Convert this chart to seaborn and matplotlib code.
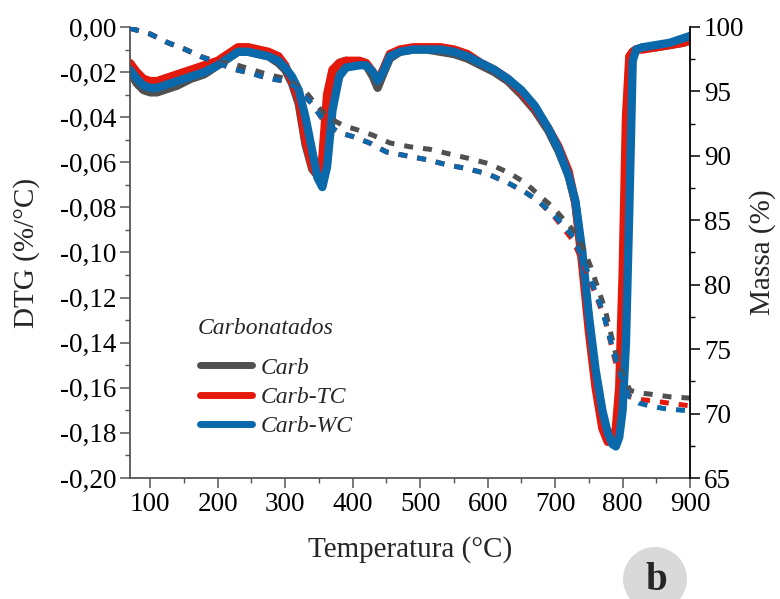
import numpy as np
import pandas as pd
import matplotlib
matplotlib.use("Agg")
import matplotlib.pyplot as plt
import seaborn as sns
from matplotlib.ticker import MultipleLocator, FuncFormatter
from matplotlib.lines import Line2D
from matplotlib.patches import Ellipse

# ---------------- data ----------------
series = ["Carb", "Carb-TC", "Carb-WC"]
colors = {"Carb": "#505050", "Carb-TC": "#e5190b", "Carb-WC": "#0a69ab"}
legend_title = "Carbonatados"

T_dtg = [70, 80, 90, 100, 110, 120, 140, 160, 180, 200, 215, 230, 245, 260, 275,
         290, 300, 310, 320, 330, 340, 348, 355, 362, 370, 380, 390, 400, 410,
         420, 430, 437, 445, 455, 470, 490, 510, 530, 550, 570, 590, 610, 630,
         650, 670, 690, 705, 720, 730, 740, 750, 760, 770, 778, 785, 790, 795,
         800, 805, 810, 815, 820, 830, 850, 870, 890, 900]

dtg_carb = [-0.020, -0.025, -0.028, -0.029, -0.029, -0.028, -0.026, -0.023, -0.021,
            -0.017, -0.014, -0.011, -0.011, -0.012, -0.013, -0.016, -0.019, -0.025,
            -0.034, -0.052, -0.063, -0.066, -0.062, -0.035, -0.020, -0.016, -0.015,
            -0.016, -0.016, -0.017, -0.022, -0.027, -0.021, -0.014, -0.011, -0.010,
            -0.010, -0.011, -0.012, -0.014, -0.017, -0.020, -0.024, -0.030, -0.037,
            -0.046, -0.055, -0.066, -0.078, -0.102, -0.130, -0.156, -0.174, -0.182,
            -0.184, -0.183, -0.178, -0.150, -0.070, -0.015, -0.011, -0.010, -0.009,
            -0.009, -0.008, -0.007, -0.006]

dtg_tc = [-0.016, -0.020, -0.023, -0.024, -0.024, -0.023, -0.021, -0.019, -0.017,
          -0.015, -0.012, -0.009, -0.009, -0.010, -0.011, -0.013, -0.017, -0.024,
          -0.032, -0.050, -0.062, -0.066, -0.058, -0.030, -0.019, -0.016, -0.015,
          -0.015, -0.015, -0.016, -0.020, -0.024, -0.019, -0.012, -0.010, -0.009,
          -0.009, -0.009, -0.010, -0.012, -0.016, -0.019, -0.023, -0.029, -0.036,
          -0.045, -0.053, -0.064, -0.078, -0.105, -0.135, -0.160, -0.178, -0.184,
          -0.182, -0.178, -0.160, -0.110, -0.040, -0.013, -0.011, -0.010, -0.010,
          -0.009, -0.008, -0.007, -0.006]

dtg_wc = [-0.019, -0.023, -0.026, -0.027, -0.027, -0.026, -0.024, -0.022, -0.020,
          -0.017, -0.014, -0.011, -0.011, -0.012, -0.013, -0.015, -0.018, -0.022,
          -0.028, -0.040, -0.055, -0.067, -0.071, -0.062, -0.037, -0.022, -0.018,
          -0.0175, -0.017, -0.017, -0.020, -0.024, -0.020, -0.013, -0.011, -0.010,
          -0.010, -0.010, -0.011, -0.013, -0.016, -0.019, -0.023, -0.028, -0.035,
          -0.045, -0.054, -0.066, -0.077, -0.099, -0.128, -0.152, -0.170, -0.180,
          -0.185, -0.186, -0.182, -0.170, -0.140, -0.080, -0.015, -0.010, -0.009,
          -0.008, -0.007, -0.005, -0.004]

T_mass_carb = [70, 100, 125, 150, 175, 200, 225, 250, 275, 300, 330, 345, 363, 388,
               402, 430, 455, 485, 515, 547, 572, 601, 631, 656, 675, 697, 727, 742,
               752, 774, 789, 798, 811, 825, 842, 870, 900]
mass_carb = [99.9, 99.45, 98.8, 98.3, 97.7, 97.3, 97.1, 96.7, 96.3, 96.0, 95.0, 94.0,
             93.0, 92.3, 92.1, 91.6, 91.0, 90.7, 90.5, 90.1, 89.8, 89.4, 88.7, 87.9,
             87.0, 86.0, 84.2, 82.8, 81.5, 78.1, 74.8, 73.3, 71.8, 71.6, 71.5, 71.3,
             71.2]

T_mass_tc = [70, 100, 125, 150, 175, 200, 225, 250, 275, 300, 320, 340, 360, 380, 400,
             425, 450, 480, 510, 540, 570, 600, 630, 655, 675, 700, 727, 750, 774,
             789, 798, 811, 825, 842, 870, 900]
mass_tc = [99.9, 99.45, 98.8, 98.3, 97.7, 97.2, 96.7, 96.4, 96.0, 95.8, 95.2, 94.0,
           92.5, 91.8, 91.5, 91.0, 90.3, 90.0, 89.7, 89.3, 89.0, 88.6, 87.9, 87.2,
           86.5, 85.2, 83.4, 80.6, 77.3, 74.1, 72.5, 71.3, 71.1, 71.0, 70.8, 70.6]

T_mass_wc = [70, 100, 125, 150, 175, 200, 225, 250, 275, 300, 320, 340, 360, 380, 400,
             425, 450, 480, 510, 540, 570, 600, 630, 655, 675, 700, 727, 750, 770,
             790, 800, 810, 825, 840, 860, 880, 900]
mass_wc = [99.9, 99.45, 98.8, 98.3, 97.7, 97.2, 96.7, 96.4, 96.0, 95.8, 95.2, 94.0,
           92.5, 91.8, 91.5, 91.0, 90.3, 90.0, 89.7, 89.3, 89.0, 88.6, 87.9, 87.2,
           86.5, 85.3, 83.7, 80.8, 78.0, 74.2, 72.5, 71.3, 70.8, 70.6, 70.4, 70.3,
           70.2]

dtg_data = {"Carb": dtg_carb, "Carb-TC": dtg_tc, "Carb-WC": dtg_wc}
mass_data = {"Carb": (T_mass_carb, mass_carb), "Carb-TC": (T_mass_tc, mass_tc),
             "Carb-WC": (T_mass_wc, mass_wc)}

# ---------------- style ----------------
sns.set_style("ticks")
plt.rcParams["font.family"] = ["Liberation Serif", "DejaVu Serif"]
plt.rcParams["font.size"] = 19.5

fig = plt.figure(figsize=(7.80, 5.99), dpi=100)
ax = fig.add_axes([0.1667, 0.202, 0.718, 0.753])
ax2 = ax.twinx()

for s in series:
    df = pd.DataFrame({"T": T_dtg, "v": dtg_data[s]})
    sns.lineplot(data=df, x="T", y="v", ax=ax, color=colors[s], linewidth=6,
                 sort=False, estimator=None, solid_joinstyle="round",
                 solid_capstyle="round")

for s in series:
    t, m = mass_data[s]
    df = pd.DataFrame({"T": t, "m": m})
    sns.lineplot(data=df, x="T", y="m", ax=ax2, color=colors[s], linewidth=3.6,
                 linestyle=(0, (1.8, 2.0)), sort=False, estimator=None)

ax.set_xlim(70, 900)
ax.set_ylim(-0.20, 0.0)
ax2.set_ylim(65, 100)

ax.xaxis.set_major_locator(MultipleLocator(100))
ax.xaxis.set_minor_locator(MultipleLocator(50))
ax.yaxis.set_major_locator(MultipleLocator(0.02))
ax.yaxis.set_minor_locator(MultipleLocator(0.01))
ax2.yaxis.set_major_locator(MultipleLocator(5))
ax2.yaxis.set_minor_locator(MultipleLocator(2.5))

ax.yaxis.set_major_formatter(FuncFormatter(
    lambda v, p: f"{v:.2f}".replace(".", ",").replace("-0,00", "0,00")))

for a in (ax, ax2):
    a.tick_params(which="major", length=7, width=1.1, direction="out",
                  labelsize=19.5, colors="black", pad=3)
    a.tick_params(which="minor", length=3.5, width=1.0, direction="out", colors="black")
    a.spines["top"].set_visible(False)

ax.spines["left"].set_color("#555555")
ax.spines["bottom"].set_color("#555555")
ax.spines["left"].set_linewidth(1.3)
ax.spines["bottom"].set_linewidth(1.3)
ax.spines["right"].set_visible(False)
ax2.spines["right"].set_color("black")
ax2.spines["right"].set_linewidth(1.3)
ax2.spines["left"].set_visible(False)
ax2.spines["bottom"].set_visible(False)
ax.tick_params(axis="both", which="both", colors="#555555", labelcolor="black")

ax.set_xlabel("Temperatura (°C)", fontsize=21, labelpad=14)
ax.set_ylabel("DTG (%/°C)", fontsize=21, labelpad=14)
ax2.set_ylabel("Massa (%)", fontsize=21, labelpad=3)

# legend (title drawn as separate text to reproduce spacing)
fig.text(198 / 780, 1 - 328 / 599, legend_title, ha="left", va="center",
         fontsize=17, style="italic")
handles = [Line2D([], [], color=colors[s], linewidth=5) for s in series]
leg = ax2.legend(handles, series, loc="upper left",
                 bbox_to_anchor=(200 / 780, 1 - 357 / 599),
                 bbox_transform=fig.transFigure, borderaxespad=0, borderpad=0,
                 frameon=False, handlelength=2.2, handletextpad=0.35,
                 labelspacing=0.33, prop={"style": "italic", "size": 17})

# panel label
circ = Ellipse((655 / 780, 1 - 579 / 599), width=64 / 780, height=64 / 599,
               transform=fig.transFigure, facecolor="#d9d9d9", edgecolor="none",
               zorder=5)
fig.patches.append(circ)
fig.text(656 / 780, 1 - 580 / 599, "b", ha="center", va="center", fontsize=28,
         fontweight="bold", zorder=6)

fig.savefig("out.png", dpi=100)
